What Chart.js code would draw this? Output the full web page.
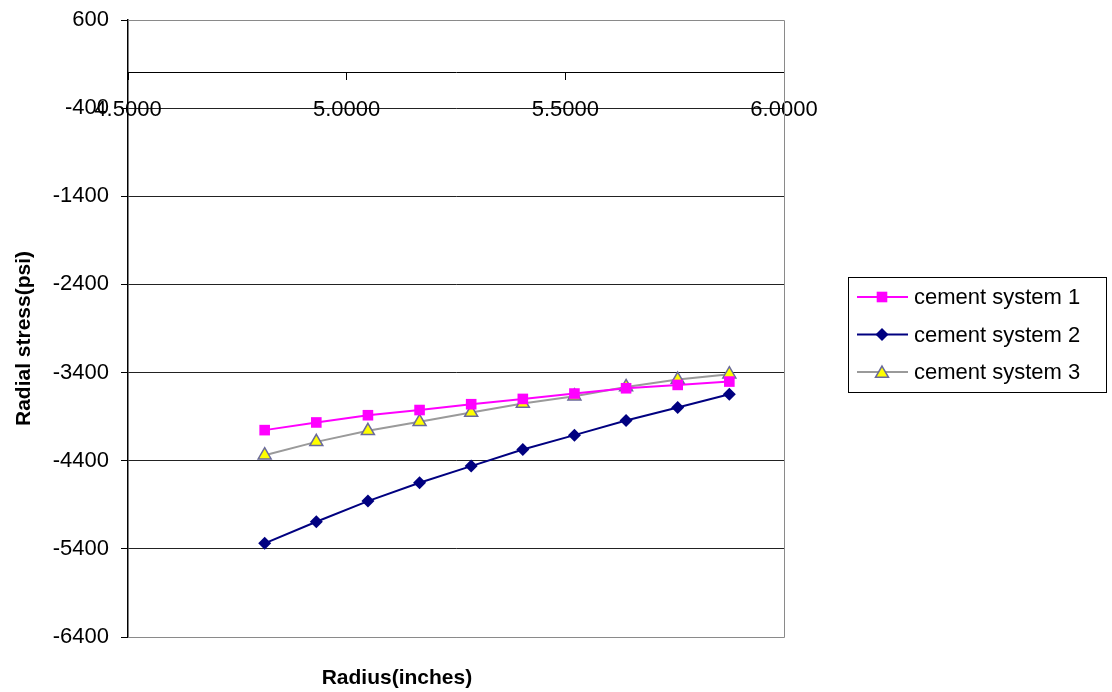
<!DOCTYPE html>
<html>
<head>
<meta charset="utf-8">
<script src="https://cdn.jsdelivr.net/npm/chart.js@4/dist/chart.umd.min.js"></script>
<style>
  html, body { margin: 0; padding: 0; background: #fff; }
  #wrap { width: 1112px; height: 692px; position: relative; }
</style>
</head>
<body>
<div id="wrap"><canvas id="c" width="1112" height="692"></canvas></div>
<script>
// ---- data ----
const radius = [4.8125, 4.9306, 5.0486, 5.1667, 5.2847, 5.4028, 5.5208, 5.6389, 5.7569, 5.8750];
const system1 = [-4053, -3966, -3884, -3825, -3759, -3699, -3638, -3578, -3540, -3502];
const system2 = [-5337, -5092, -4858, -4650, -4461, -4272, -4110, -3944, -3796, -3646];
const system3 = [-4337, -4186, -4061, -3959, -3853, -3751, -3668, -3563, -3479, -3419];
const seriesNames = ['cement system 1', 'cement system 2', 'cement system 3'];
const yTicks = [600, -400, -1400, -2400, -3400, -4400, -5400, -6400];
const xTicks = [4.5, 5.0, 5.5, 6.0];
const xTitle = 'Radius(inches)';
const yTitle = 'Radial stress(psi)';

const FONT = "'Liberation Sans', Arial, sans-serif";
const pts = (ys) => radius.map((x, i) => ({ x: x, y: ys[i] }));

function drawMarker(ctx, style, x, y, r) {
  ctx.beginPath();
  if (style === 'rect') {
    const s = r * Math.SQRT1_2;
    ctx.rect(x - s, y - s, 2 * s, 2 * s);
  } else if (style === 'rectRot') {
    ctx.moveTo(x, y - r); ctx.lineTo(x + r, y); ctx.lineTo(x, y + r); ctx.lineTo(x - r, y);
    ctx.closePath();
  } else if (style === 'triangle') {
    ctx.moveTo(x, y - r);
    ctx.lineTo(x + Math.sin(2 * Math.PI / 3) * r, y - Math.cos(2 * Math.PI / 3) * r);
    ctx.lineTo(x + Math.sin(4 * Math.PI / 3) * r, y - Math.cos(4 * Math.PI / 3) * r);
    ctx.closePath();
  }
}

const framePlugin = {
  id: 'frame',
  beforeDatasetsDraw(chart) {
    const { ctx, chartArea: a } = chart;
    ctx.save();
    ctx.strokeStyle = '#8a8a8a';
    ctx.lineWidth = 1;
    ctx.beginPath();
    ctx.moveTo(a.left, Math.round(a.top) + 0.5);
    ctx.lineTo(Math.round(a.right) + 0.5, Math.round(a.top) + 0.5);
    ctx.lineTo(Math.round(a.right) + 0.5, Math.round(a.bottom) + 0.5);
    ctx.lineTo(a.left, Math.round(a.bottom) + 0.5);
    ctx.stroke();
    ctx.restore();
  }
};

const extrasPlugin = {
  id: 'extras',
  afterDraw(chart) {
    const { ctx, chartArea: a } = chart;
    ctx.save();
    ctx.fillStyle = '#000';
    ctx.font = 'bold 21px ' + FONT;
    ctx.textAlign = 'center';
    ctx.textBaseline = 'middle';
    // x axis title
    ctx.fillText(xTitle, a.left + (a.right - a.left) * 0.41, 678);
    // y axis title
    ctx.save();
    ctx.translate(24, (a.top + a.bottom) / 2 + 10);
    ctx.rotate(-Math.PI / 2);
    ctx.fillText(yTitle, 0, 0);
    ctx.restore();
    // legend box
    const bx = a.right + 64, by = 277, bw = 258, bh = 115;
    ctx.strokeStyle = '#000';
    ctx.lineWidth = 1;
    ctx.strokeRect(Math.round(bx) + 0.5, by + 0.5, bw, bh);
    ctx.font = '22px ' + FONT;
    ctx.textAlign = 'left';
    chart.data.datasets.forEach((ds, i) => {
      const cy = by + 20 + i * 37.5;
      ctx.strokeStyle = ds.borderColor;
      ctx.lineWidth = ds.borderWidth;
      ctx.beginPath();
      ctx.moveTo(bx + 9, cy); ctx.lineTo(bx + 60, cy);
      ctx.stroke();
      ctx.fillStyle = ds.pointBackgroundColor;
      ctx.strokeStyle = ds.pointBorderColor;
      ctx.lineWidth = ds.pointBorderWidth;
      drawMarker(ctx, ds.pointStyle, bx + 34, cy + (ds.pointStyle === 'triangle' ? 1.5 : 0), ds.pointRadius);
      ctx.fill();
      if (ds.pointBorderWidth > 0) ctx.stroke();
      ctx.fillStyle = '#000';
      ctx.textBaseline = 'middle';
      ctx.fillText(ds.label, bx + 66, cy + 1);
    });
    ctx.restore();
  }
};

new Chart(document.getElementById('c'), {
  type: 'scatter',
  data: {
    datasets: [
      {
        label: seriesNames[0], data: pts(system1), showLine: true,
        borderColor: '#ff00ff', borderWidth: 2,
        pointStyle: 'rect', pointRadius: 7.5, pointBackgroundColor: '#ff00ff',
        pointBorderColor: '#ff00ff', pointBorderWidth: 0
      },
      {
        label: seriesNames[1], data: pts(system2), showLine: true,
        borderColor: '#000080', borderWidth: 2,
        pointStyle: 'rectRot', pointRadius: 6.5, pointBackgroundColor: '#000080',
        pointBorderColor: '#000080', pointBorderWidth: 0
      },
      {
        label: seriesNames[2], data: pts(system3), showLine: true,
        borderColor: '#9a9a9a', borderWidth: 2,
        pointStyle: 'triangle', pointRadius: 7.5, pointBackgroundColor: '#ffff00',
        pointBorderColor: '#6a6a9a', pointBorderWidth: 1.5
      }
    ]
  },
  options: {
    responsive: false,
    animation: false,
    devicePixelRatio: 1,
    layout: { padding: { left: 0, top: 20, right: 328, bottom: 55 } },
    plugins: { legend: { display: false }, tooltip: { enabled: false } },
    scales: {
      x: {
        type: 'linear',
        position: { y: 0 },
        min: 4.5, max: 6.0,
        afterBuildTicks: (s) => { s.ticks = xTicks.map(v => ({ value: v })); },
        ticks: {
          color: '#000', font: { family: FONT, size: 22 }, padding: 17,
          maxRotation: 0, autoSkip: false,
          callback: (v) => Number(v).toFixed(4)
        },
        grid: { drawOnChartArea: false, drawTicks: true, tickLength: 7, tickColor: '#000' },
        border: { display: true, color: '#000', width: 1 }
      },
      y: {
        type: 'linear',
        position: 'left',
        min: -6400, max: 600,
        afterBuildTicks: (s) => { s.ticks = yTicks.map(v => ({ value: v })); },
        afterFit: (s) => { s.width = 128; s.paddingTop = 0; s.paddingBottom = 0; },
        ticks: {
          color: '#000', font: { family: FONT, size: 22 }, padding: 12, autoSkip: false,
          callback: (v) => String(v)
        },
        grid: {
          color: (c) => (c.tick && (c.tick.value === 600 || c.tick.value === -6400)) ? '#8a8a8a' : '#222',
          lineWidth: 1, drawTicks: true, tickLength: 7, tickColor: '#000'
        },
        border: { display: true, color: '#000', width: 1.5 },
        title: { display: false }
      }
    }
  },
  plugins: [framePlugin, extrasPlugin]
});
</script>
</body>
</html>
